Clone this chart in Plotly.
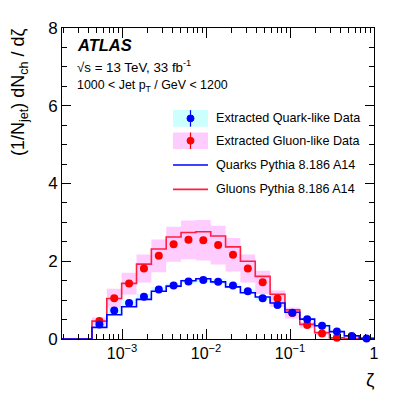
import plotly.graph_objects as go

# ---- data ----
bin_edges = [4.385e-4, 6.585e-4, 9.897e-4, 1.487e-3, 2.234e-3, 3.355e-3, 5.04e-3, 7.57e-3,
             1.137e-2, 1.709e-2, 2.567e-2, 3.856e-2, 5.793e-2, 8.70e-2, 0.1307, 0.1964,
             0.2950, 0.4432, 0.6658, 1.0]
bin_centers = [5.374e-4, 8.07e-4, 1.213e-3, 1.823e-3, 2.738e-3, 4.112e-3, 6.18e-3, 9.28e-3,
               1.394e-2, 2.094e-2, 3.146e-2, 4.726e-2, 7.10e-2, 0.1066, 0.1602, 0.2407,
               0.3616, 0.5432, 0.816]

quark_data = [0.375, 0.73, 0.925, 1.09, 1.275, 1.375, 1.48, 1.515, 1.475, 1.375, 1.23,
              1.05, 0.875, 0.675, 0.51, 0.34, 0.19, 0.08, 0.015]
quark_unc = [0.04, 0.1, 0.08, 0.07, 0.06, 0.06, 0.06, 0.06, 0.06, 0.06, 0.05, 0.05,
             0.05, 0.04, 0.04, 0.03, 0.02, 0.01, 0.01]
gluon_data = [0.465, 1.05, 1.425, 1.815, 2.14, 2.44, 2.55, 2.54, 2.415, 2.165, 1.815,
              1.457, 1.04, 0.67, 0.357, 0.14, 0.03, None, None]
gluon_unc = [0.09, 0.24, 0.28, 0.36, 0.42, 0.45, 0.5, 0.52, 0.5, 0.43, 0.36, 0.3, 0.21,
             0.14, 0.08, 0.04, 0.02, 0.01, 0.01]
quark_mc = [0.30, 0.625, 0.83, 1.02, 1.23, 1.36, 1.5, 1.55, 1.47, 1.34, 1.19, 1.08,
            0.925, 0.69, 0.51, 0.34, 0.19, 0.08, 0.015]
gluon_mc = [0.46, 1.04, 1.43, 1.925, 2.315, 2.625, 2.74, 2.76, 2.65, 2.37, 2.0, 1.61,
            1.15, 0.75, 0.375, 0.165, 0.03, 0.01, 0.01]

x_log_range = [-3.715, 0]
x_left = 10 ** x_log_range[0]
x_tickvals = [1e-3, 1e-2, 1e-1, 1]
x_ticktext = ["10<sup>−3</sup>", "10<sup>−2</sup>", "10<sup>−1</sup>", "1"]
y_tickvals = [0, 2, 4, 6, 8]

CYAN = "#ccffff"
PINK = "#ffccff"
BLUE = "#0000ff"
RED = "#ff0000"
RED_LINE = "#ff2040"
FONT = "Liberation Sans"

fig = go.Figure()


def band(vals, unc, mc, color):
    lo, hi = [], []
    for v, u, m in zip(vals, unc, mc):
        c = v if v is not None else m
        lo.append(c - u)
        hi.append(c + u)
    lo.append(lo[-1])
    hi.append(hi[-1])
    fig.add_trace(go.Scatter(x=bin_edges, y=lo, mode="lines", line=dict(width=0, shape="hv"),
                             showlegend=False, hoverinfo="skip"))
    fig.add_trace(go.Scatter(x=bin_edges, y=hi, mode="lines", line=dict(width=0, shape="hv"),
                             fill="tonexty", fillcolor=color, showlegend=False, hoverinfo="skip"))


band(quark_data, quark_unc, quark_mc, CYAN)
band(gluon_data, gluon_unc, gluon_mc, PINK)


def step(vals, color):
    xs = [x_left] + bin_edges
    ys = [0] + vals + [vals[-1]]
    fig.add_trace(go.Scatter(x=xs, y=ys, mode="lines", line=dict(color=color, width=1.6, shape="hv"),
                             showlegend=False, cliponaxis=True))


step(gluon_mc, RED_LINE)
step(quark_mc, BLUE)

fig.add_trace(go.Scatter(x=bin_centers, y=gluon_data, mode="markers",
                         marker=dict(color=RED, size=8), showlegend=False, cliponaxis=False))
fig.add_trace(go.Scatter(x=bin_centers, y=quark_data, mode="markers",
                         marker=dict(color=BLUE, size=8), showlegend=False, cliponaxis=False))

# ---- geometry (page body adds an 8px offset) ----
OFF = 8
W, H = 415 - OFF, 395 - OFF
L, T = 62 - OFF, 19 - OFF
pw, ph = 312, 320
R = W - L - pw
B = H - T - ph


def px(x):
    return (x - OFF - L) / pw


def py(y):
    return (T + ph - (y - OFF)) / ph


shapes = []
annotations = []

legend_rows = [
    ("Extracted Quark-like Data", "data", CYAN, BLUE, 112),
    ("Extracted Gluon-like Data", "data", PINK, RED, 135),
    ("Quarks Pythia 8.186 A14", "line", None, BLUE, 160),
    ("Gluons Pythia 8.186 A14", "line", None, RED_LINE, 185),
]
for label, kind, fillc, c, yc in legend_rows:
    if kind == "data":
        shapes.append(dict(type="rect", xref="paper", yref="paper", x0=px(173), x1=px(208),
                           y0=py(yc + 8.5), y1=py(yc - 8.5), fillcolor=fillc, line=dict(width=0)))
        shapes.append(dict(type="line", xref="paper", yref="paper", x0=px(190.5), x1=px(190.5),
                           y0=py(yc + 8.5), y1=py(yc - 8.5), line=dict(color=c, width=1.2)))
        shapes.append(dict(type="circle", xref="paper", yref="paper", x0=px(187), x1=px(194),
                           y0=py(yc + 3.5), y1=py(yc - 3.5), fillcolor=c, line=dict(color=c, width=1)))
    else:
        shapes.append(dict(type="line", xref="paper", yref="paper", x0=px(173), x1=px(208),
                           y0=py(yc), y1=py(yc), line=dict(color=c, width=1.6)))
    annotations.append(dict(text=label, xref="paper", yref="paper", x=px(214), y=py(yc),
                            xanchor="left", yanchor="middle", showarrow=False,
                            font=dict(family=FONT, size=12.6, color="black")))

annotations += [
    dict(text="<b><i>ATLAS</i></b>", xref="paper", yref="paper", x=px(75), y=py(37),
         xanchor="left", yanchor="middle", showarrow=False,
         font=dict(family=FONT, size=16.5, color="black")),
    dict(text="√s = 13 TeV, 33 fb<sup>-1</sup>", xref="paper", yref="paper", x=px(75), y=py(59),
         xanchor="left", yanchor="middle", showarrow=False,
         font=dict(family=FONT, size=13.3, color="black")),
    dict(text="1000 &lt; Jet p<sub>T</sub> / GeV &lt; 1200", xref="paper", yref="paper", x=px(75),
         y=py(79), xanchor="left", yanchor="middle", showarrow=False,
         font=dict(family=FONT, size=12.4, color="black")),
    dict(text="(1/N<sub>jet</sub>) dN<sub>ch</sub> / dζ", xref="paper", yref="paper", x=px(19),
         y=py(17), xanchor="center", yanchor="top", textangle=-90, showarrow=False,
         font=dict(family=FONT, size=18, color="black")),
    dict(text="ζ", xref="paper", yref="paper", x=px(370), y=py(381),
         xanchor="center", yanchor="middle", showarrow=False,
         font=dict(family=FONT, size=19, color="black")),
]

x_minor = [m * 10 ** d for d in range(-4, 0) for m in range(2, 10)]

fig.update_layout(
    width=W, height=H,
    margin=dict(l=L, r=R, t=T, b=B),
    paper_bgcolor="white", plot_bgcolor="white",
    showlegend=False,
    shapes=shapes, annotations=annotations,
    font=dict(family=FONT, color="black"),
    xaxis=dict(type="log", range=x_log_range, tickmode="array", tickvals=x_tickvals,
               ticktext=x_ticktext, ticks="inside", ticklen=10, tickcolor="black",
               showline=True, linecolor="black", linewidth=1, mirror="allticks",
               showgrid=False, zeroline=False, tickfont=dict(family=FONT, size=16),
               minor=dict(tickmode="array", tickvals=x_minor, ticks="inside", ticklen=5,
                          tickcolor="black", showgrid=False)),
    yaxis=dict(range=[0, 8], tickmode="array", tickvals=y_tickvals, ticks="inside",
               ticklen=9, tickcolor="black", showline=True, linecolor="black", linewidth=1,
               mirror="allticks", showgrid=False, zeroline=False,
               tickfont=dict(family=FONT, size=17),
               minor=dict(dtick=0.5, ticks="inside", ticklen=5, tickcolor="black", showgrid=False)),
)

fig.write_html("out.html")
